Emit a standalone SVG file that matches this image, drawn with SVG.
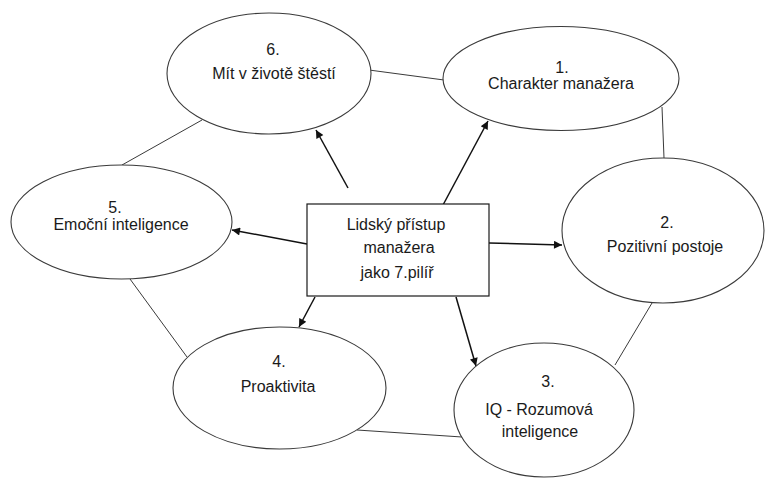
<svg xmlns="http://www.w3.org/2000/svg" width="765" height="481" viewBox="0 0 765 481">
  <style>
    .pillar { fill: #ffffff; stroke: #3a3a3a; stroke-width: 1.1; }
    .hub { fill: #ffffff; stroke: #1a1a1a; stroke-width: 1.2; }
    .label { font-family: "Liberation Sans", Arial, sans-serif; font-size: 16px; fill: #1a1a1a; text-anchor: middle; }
    .link { stroke: #3a3a3a; stroke-width: 1; fill: none; }
    .arrow { stroke: #111111; stroke-width: 1.5; fill: none; marker-end: url(#head); }
  </style>
  <defs>
    <marker id="head" viewBox="0 0 10 10" refX="10" refY="5" markerWidth="11" markerHeight="8" markerUnits="userSpaceOnUse" orient="auto">
      <path d="M0,0 L10,5 L0,10 z" fill="#111111"/>
    </marker>
  </defs>
  <rect width="765" height="481" fill="#ffffff"/>

  <!-- ring links between neighbouring pillars, and arrows from the hub -->
  <g id="connectors">
    <line class="link" x1="369" y1="70" x2="444" y2="80"/>
    <line class="link" x1="662" y1="107" x2="664" y2="158"/>
    <line class="link" x1="652" y1="303" x2="615" y2="365"/>
    <line class="link" x1="462" y1="437" x2="357" y2="430"/>
    <line class="link" x1="187" y1="357" x2="130" y2="279"/>
    <line class="link" x1="122" y1="165" x2="202" y2="120"/>

    <line class="arrow" x1="348" y1="188" x2="316" y2="130"/>
    <line class="arrow" x1="443" y1="205" x2="488" y2="121"/>
    <line class="arrow" x1="307" y1="244" x2="232" y2="230"/>
    <line class="arrow" x1="489" y1="243" x2="562" y2="245"/>
    <line class="arrow" x1="315" y1="297" x2="299" y2="327"/>
    <line class="arrow" x1="456" y1="297" x2="476" y2="366"/>
  </g>

  <g id="pillar-6">
    <ellipse class="pillar" cx="269" cy="73.5" rx="102" ry="60.5"/>
    <text class="label" x="273" y="55">6.</text>
    <text class="label" x="274" y="79">Mít v životě štěstí</text>
  </g>

  <g id="pillar-1">
    <ellipse class="pillar" cx="561" cy="78.5" rx="118" ry="52"/>
    <text class="label" x="562" y="73">1.</text>
    <text class="label" x="561" y="89">Charakter manažera</text>
  </g>

  <g id="pillar-5">
    <ellipse class="pillar" cx="121.5" cy="222" rx="110.5" ry="57"/>
    <text class="label" x="115" y="213">5.</text>
    <text class="label" x="121" y="230">Emoční inteligence</text>
  </g>

  <g id="pillar-2">
    <ellipse class="pillar" cx="663" cy="230.5" rx="101" ry="72.5"/>
    <text class="label" x="667" y="228">2.</text>
    <text class="label" x="665" y="252">Pozitivní postoje</text>
  </g>

  <g id="pillar-4">
    <ellipse class="pillar" cx="279.5" cy="388" rx="106.5" ry="61"/>
    <text class="label" x="279" y="367">4.</text>
    <text class="label" x="278" y="392">Proaktivita</text>
  </g>

  <g id="pillar-3">
    <ellipse class="pillar" cx="544" cy="410" rx="90" ry="67"/>
    <text class="label" x="548" y="387">3.</text>
    <text class="label" x="539" y="415">IQ - Rozumová</text>
    <text class="label" x="540" y="437">inteligence</text>
  </g>

  <g id="hub">
    <rect class="hub" x="307" y="204" width="182" height="92"/>
    <text class="label" x="396" y="230">Lidský přístup</text>
    <text class="label" x="399" y="253">manažera</text>
    <text class="label" x="397" y="278">jako 7.pilíř</text>
  </g>
</svg>
